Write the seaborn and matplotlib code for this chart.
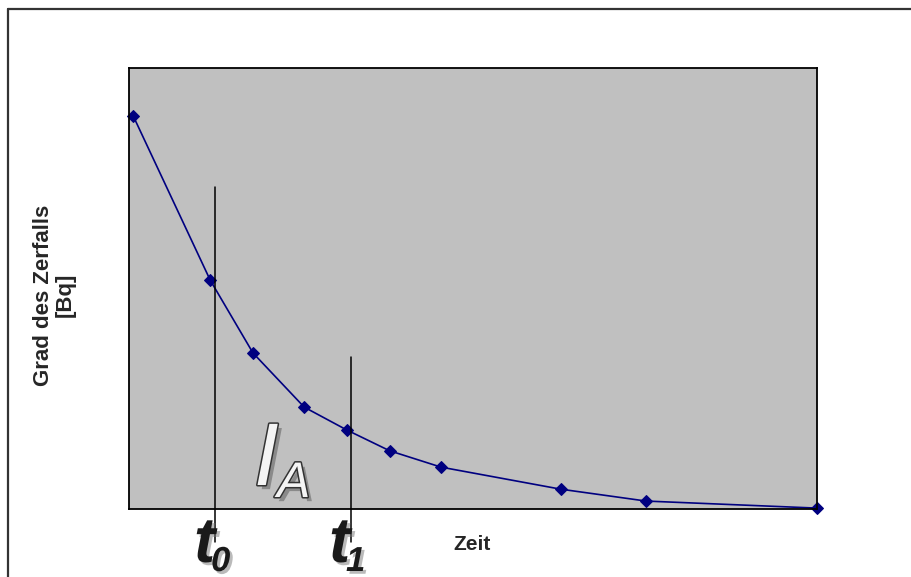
import matplotlib
matplotlib.use("Agg")
import matplotlib.pyplot as plt
import matplotlib.patheffects as pe
from matplotlib.lines import Line2D
import seaborn as sns
import pandas as pd

# Zerfallskurve
zeit = [0.0, 0.9, 1.4, 2.0, 2.5, 3.0, 3.6, 5.0, 6.0, 8.0]
aktivitaet = [891, 519, 354, 231, 179, 132, 95, 45, 18, 2]

# Markierungen t0 / t1
t_zeiten = [0.96, 2.55]
t_oben = [730, 345]
t_namen = ["0", "1"]

W, H = 912, 577


def fx(px):
    return px / W


def fy(py):
    return 1 - py / H


sns.set_style("white")
plt.rcParams["font.family"] = ["Liberation Sans", "DejaVu Sans"]

fig = plt.figure(figsize=(W / 100, H / 100), dpi=100)
ax = fig.add_axes([fx(129), fy(509), fx(817) - fx(129), fy(68) - fy(509)])
ax.set_facecolor("#c0c0c0")

df = pd.DataFrame({"Zeit": zeit, "Aktivitaet": aktivitaet})
sns.lineplot(data=df, x="Zeit", y="Aktivitaet", ax=ax, color="#000080",
             marker="D", markersize=6.5, markeredgecolor="#000080",
             linewidth=1.2)
for line in ax.lines:
    line.set_clip_on(False)

ax.set_xlim(-0.05, 8.0)
ax.set_ylim(0, 1000)
ax.set_xticks([])
ax.set_yticks([])
ax.set_xlabel("")
ax.set_ylabel("")
for s in ax.spines.values():
    s.set_color("black")
    s.set_linewidth(1.3)

for x, top in zip(t_zeiten, t_oben):
    ax.plot([x, x], [-75, top], color="black", linewidth=1.1, clip_on=False, zorder=3)

shadow = [pe.SimplePatchShadow(offset=(2, -2), shadow_rgbFace="#777777", alpha=0.5), pe.Normal()]
for x0, name in zip([194, 329], t_namen):
    fig.text(fx(x0), fy(562), "t", fontsize=46, fontweight="bold", style="italic",
             color="#1a1a1a", ha="left", va="baseline", path_effects=shadow)
    fig.text(fx(x0 + 17), fy(571), name, fontsize=25, fontweight="bold", style="italic",
             color="#1a1a1a", ha="left", va="baseline", path_effects=shadow)

outline = [pe.SimplePatchShadow(offset=(3, -3), shadow_rgbFace="#666666", alpha=0.6),
           pe.Stroke(linewidth=2.2, foreground="#333333"), pe.Normal()]
fig.text(fx(254), fy(485), "I", fontsize=64, style="italic", color="#f4f4f4",
         ha="left", va="baseline", path_effects=outline)
fig.text(fx(277), fy(497), "A", fontsize=36, style="italic", color="#f4f4f4",
         ha="left", va="baseline", path_effects=outline)

fig.text(fx(472), fy(544), "Zeit", fontsize=15, fontweight="bold",
         ha="center", va="center")
fig.text(fx(54), fy(295), "Grad des Zerfalls\n[Bq]", fontsize=16, fontweight="bold",
         rotation=90, ha="center", va="center", multialignment="center", linespacing=1.05)

# Rahmen oben und links (Bild ist rechts/unten abgeschnitten)
fig.lines.append(Line2D([fx(8), 1], [fy(9), fy(9)], transform=fig.transFigure,
                        color="#333333", linewidth=1.6))
fig.lines.append(Line2D([fx(8), fx(8)], [fy(9), 0], transform=fig.transFigure,
                        color="#333333", linewidth=1.6))

fig.savefig("out.png", dpi=100)
